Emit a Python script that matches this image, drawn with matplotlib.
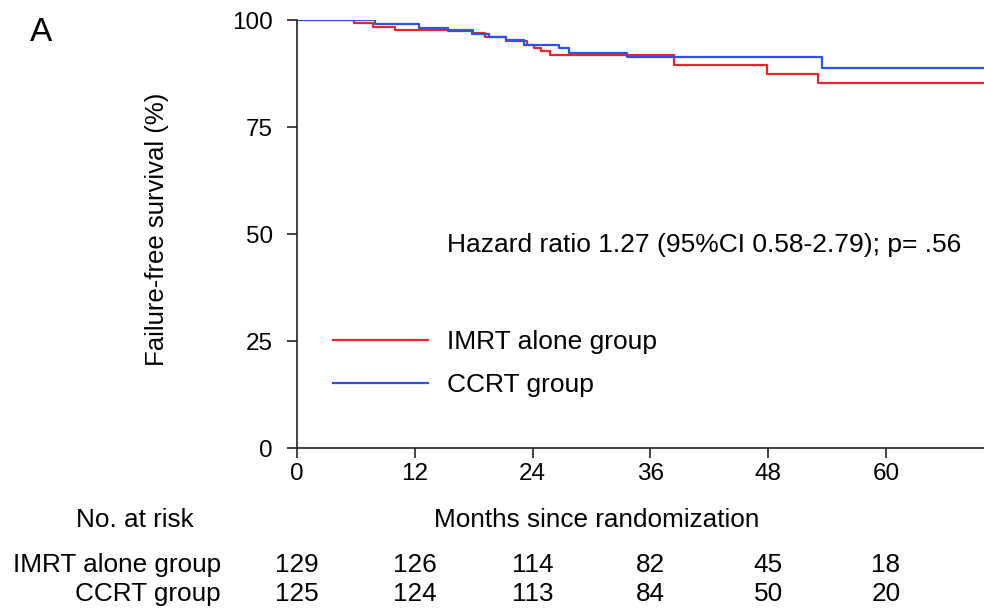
import matplotlib
matplotlib.use("Agg")
import matplotlib.pyplot as plt

plt.rcParams['font.family'] = ['Liberation Sans', 'DejaVu Sans']

# Kaplan-Meier steps (months, % failure-free)
imrt_t = [0, 5.8, 7.7, 10.0, 17.9, 19.1, 21.3, 23.4, 24.1, 24.9, 25.8, 38.4, 47.9, 53.1, 70]
imrt_s = [100, 99.2, 98.4, 97.7, 96.9, 96.0, 95.1, 94.2, 93.4, 92.8, 91.8, 89.6, 87.4, 85.2, 85.2]
ccrt_t = [0, 7.9, 12.4, 15.4, 17.8, 19.6, 21.3, 23.1, 26.7, 27.7, 33.6, 53.5, 70]
ccrt_s = [100, 99.0, 98.1, 97.4, 96.7, 96.0, 95.3, 94.2, 93.4, 92.4, 91.3, 88.9, 88.9]

ticks_x = [0, 12, 24, 36, 48, 60]
ticks_y = [0, 25, 50, 75, 100]
risk_imrt = [129, 126, 114, 82, 45, 18]
risk_ccrt = [125, 124, 113, 84, 50, 20]

RED = '#e8252b'
BLUE = '#2d52e8'
FS = 18.8  # bottom table text

fig = plt.figure(figsize=(9.84, 6.08), dpi=100)
ax = fig.add_axes([0.302, 0.263, 0.698, 0.704])

ax.step(imrt_t, imrt_s, where='post', color=RED, lw=1.6, label='IMRT alone group')
ax.step(ccrt_t, ccrt_s, where='post', color=BLUE, lw=1.6, label='CCRT group')

ax.set_xlim(0, 70)
ax.set_ylim(0, 100)
ax.set_xticks(ticks_x)
ax.set_yticks(ticks_y)
for s in ['top', 'right']:
    ax.spines[s].set_visible(False)
for s in ['left', 'bottom']:
    ax.spines[s].set_linewidth(1.2)
    ax.spines[s].set_color('#222222')
ax.tick_params(direction='out', length=7, width=1.2, color='#222222')
ax.tick_params(axis='y', labelsize=17.5, pad=10.5)
ax.tick_params(axis='x', labelsize=17.5, pad=4)

ax.set_ylabel('Failure-free survival (%)', fontsize=18.5)
ax.yaxis.set_label_coords(-0.186, 0.51)

ax.text(15.3, 47.4, 'Hazard ratio 1.27 (95%CI 0.58-2.79); p= .56',
        fontsize=19, va='center', ha='left')

leg = ax.legend(loc='upper left', bbox_to_anchor=(0.052, 0.275), frameon=False,
                fontsize=19, handlelength=3.6, handletextpad=0.72,
                labelspacing=0.7, borderpad=0, borderaxespad=0)

# at-risk table under the axis
tr = ax.get_xaxis_transform()
ax.text(30.5, -0.168, 'Months since randomization', transform=tr, ha='center',
        va='center', fontsize=FS)
ax.text(-10.6, -0.168, 'No. at risk', transform=tr, ha='right', va='center',
        fontsize=FS)
ax.text(-7.8, -0.272, 'IMRT alone group', transform=tr, ha='right', va='center',
        fontsize=FS)
ax.text(-7.8, -0.34, 'CCRT group', transform=tr, ha='right', va='center',
        fontsize=FS)
for x, a, b in zip(ticks_x, risk_imrt, risk_ccrt):
    ax.text(x, -0.272, str(a), transform=tr, ha='center', va='center', fontsize=FS)
    ax.text(x, -0.34, str(b), transform=tr, ha='center', va='center', fontsize=FS)

fig.text(0.042, 0.947, 'A', fontsize=24, ha='center', va='center')

fig.savefig('out.png', dpi=100)
